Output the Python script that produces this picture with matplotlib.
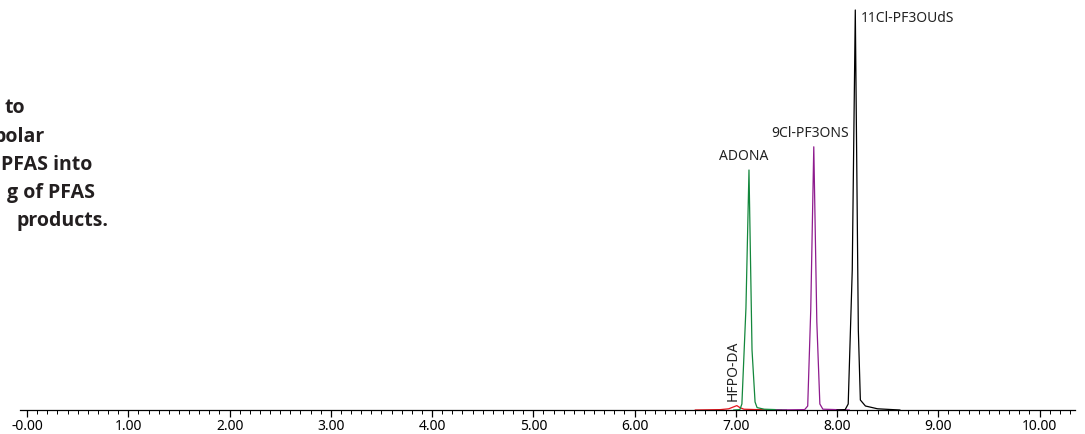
import matplotlib
matplotlib.use("Agg")
import matplotlib.pyplot as plt
from matplotlib.ticker import MultipleLocator

plt.rcParams['font.family'] = ['Noto Sans', 'DejaVu Sans']

# Traces: retention time (min), relative intensity
hfpo_t = [6.60, 6.85, 6.93, 6.97, 7.01, 7.04, 7.08, 7.20, 7.45]
hfpo_i = [0.0, 0.1, 0.3, 0.7, 1.1, 0.6, 0.2, 0.1, 0.0]

adona_t = [6.98, 7.04, 7.06, 7.10, 7.13, 7.16, 7.19, 7.21, 7.28, 7.50]
adona_i = [0.0, 0.1, 1.5, 25.5, 60.0, 15.0, 2.0, 0.6, 0.2, 0.0]

pf3ons_t = [7.40, 7.68, 7.71, 7.74, 7.77, 7.80, 7.83, 7.86, 8.12]
pf3ons_i = [0.0, 0.1, 1.0, 25.0, 65.8, 22.0, 1.5, 0.2, 0.0]

pf3ouds_t = [8.00, 8.08, 8.11, 8.15, 8.18, 8.21, 8.23, 8.28, 8.40, 8.62]
pf3ouds_i = [0.0, 0.1, 1.5, 35.0, 100.0, 20.0, 2.5, 1.0, 0.3, 0.0]

tick_vals = [0, 1, 2, 3, 4, 5, 6, 7, 8, 9, 10]
tick_labels = ["-0.00", "1.00", "2.00", "3.00", "4.00", "5.00",
               "6.00", "7.00", "8.00", "9.00", "10.00"]

side_lines = ["to", "polar", "PFAS into", "g of PFAS", "products."]

fig = plt.figure(figsize=(10.85, 4.34), dpi=100)
W, H = 1085, 434
ax = fig.add_axes([20 / W, (H - 410) / H, (1075 - 20) / W, (410 - 5) / H])

ax.plot(hfpo_t, hfpo_i, color='#e8141c', lw=0.9, zorder=2)
ax.plot(adona_t, adona_i, color='#13873c', lw=0.9, zorder=3)
ax.plot(pf3ons_t, pf3ons_i, color='#8e1b8e', lw=0.9, zorder=3)
ax.plot(pf3ouds_t, pf3ouds_i, color='#000000', lw=0.9, zorder=4)

ax.set_xlim(-0.07, 10.35)
ax.set_ylim(0, 101.25)

for s in ['left', 'right', 'top']:
    ax.spines[s].set_visible(False)
ax.spines['bottom'].set_linewidth(0.9)
ax.set_yticks([])
ax.set_xticks(tick_vals)
ax.set_xticklabels(tick_labels, fontsize=10)
ax.xaxis.set_minor_locator(MultipleLocator(0.1))
ax.tick_params(axis='x', which='major', direction='out', length=5, width=0.9, pad=1.5)
ax.tick_params(axis='x', which='minor', direction='out', length=3, width=0.7)

lab_kw = dict(fontsize=10, color='#222222')
ax.annotate("ADONA", xy=(7.13, 60.0), xytext=(-4, 4), textcoords='offset points',
            ha='center', va='bottom', **lab_kw)
ax.annotate("9Cl-PF3ONS", xy=(7.77, 65.8), xytext=(-3, 4), textcoords='offset points',
            ha='center', va='bottom', **lab_kw)
ax.annotate("11Cl-PF3OUdS", xy=(8.18, 100.0), xytext=(4, -1), textcoords='offset points',
            ha='left', va='top', **lab_kw)
ax.annotate("HFPO-DA", xy=(7.01, 1.1), xytext=(-3, 3), textcoords='offset points',
            ha='center', va='bottom', rotation=90, **lab_kw)

ends_px = [25, 45, 92, 95, 108]
ys_px = [108, 137, 165, 193, 221]
for txt, xe, yp in zip(side_lines, ends_px, ys_px):
    fig.text(xe / W, 1 - yp / H, txt, ha='right', va='center', fontsize=14,
             fontweight='bold', color='#231f20', family=['Open Sans', 'DejaVu Sans'])

fig.savefig("out.png", dpi=100)
